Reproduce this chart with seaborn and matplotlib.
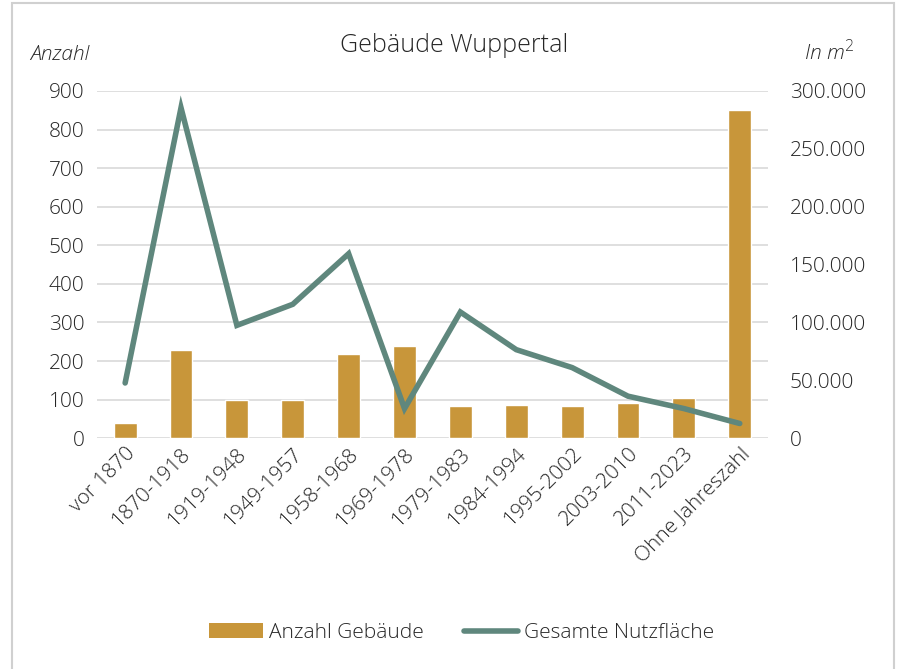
import matplotlib
matplotlib.use("Agg")
import matplotlib.pyplot as plt
import seaborn as sns
import pandas as pd
from matplotlib.patches import Patch, Rectangle
from matplotlib.lines import Line2D
from matplotlib.ticker import FuncFormatter

categories = ["vor 1870", "1870-1918", "1919-1948", "1949-1957", "1958-1968",
              "1969-1978", "1979-1983", "1984-1994", "1995-2002", "2003-2010",
              "2011-2023", "Ohne Jahreszahl"]
anzahl = [40, 228, 98, 98, 219, 238, 83, 87, 83, 91, 104, 851]
nutzflaeche = [47700, 285500, 97500, 115700, 159400, 25600, 109000, 76500,
               61000, 36300, 25600, 12700]
left_ticks = [0, 100, 200, 300, 400, 500, 600, 700, 800, 900]
right_ticks = [0, 50000, 100000, 150000, 200000, 250000, 300000]

sns.set_theme(style="white")
plt.rcParams["font.family"] = ["Open Sans", "DejaVu Sans"]
plt.rcParams["font.weight"] = "light"

bar_color = "#C8963A"
line_color = "#5F877D"
text_color = "#262626"
fs = 15

df = pd.DataFrame({"Kategorie": categories, "Anzahl": anzahl, "Nutz": nutzflaeche})

fig = plt.figure(figsize=(9, 6.69), dpi=100)
ax = fig.add_axes([0.108, 0.345, 0.745, 0.519])

sns.barplot(data=df, x="Kategorie", y="Anzahl", color=bar_color, width=0.41,
            saturation=1, ax=ax, zorder=2)
ax.set_ylim(0, 900)
ax.set_xlim(-0.5, len(categories) - 0.5)
ax.set_yticks(left_ticks)
ax.yaxis.grid(True, color="#D9D9D9", linewidth=1.2, zorder=0)
ax.set_axisbelow(True)
ax.set_xlabel("")
ax.set_ylabel("")
for s in ax.spines.values():
    s.set_visible(False)
ax.tick_params(axis="y", length=0, pad=9, labelsize=fs, labelcolor=text_color)
ax.tick_params(axis="x", length=0, pad=4, labelsize=fs, labelcolor=text_color)
plt.setp(ax.get_xticklabels(), rotation=45, ha="right", rotation_mode="anchor")

ax2 = ax.twinx()
sns.lineplot(data=df, x="Kategorie", y="Nutz", color=line_color, linewidth=4,
             sort=False, ax=ax2, solid_capstyle="round", solid_joinstyle="miter")
ax2.set_ylim(0, 300000)
ax2.set_yticks(right_ticks)
ax2.yaxis.set_major_formatter(FuncFormatter(lambda v, p: f"{int(v):,}".replace(",", ".")))
ax2.set_ylabel("")
ax2.set_xlabel("")
for s in ax2.spines.values():
    s.set_visible(False)
ax2.tick_params(axis="y", length=0, pad=16, labelsize=fs, labelcolor=text_color)
ax2.grid(False)

fig.text(0.505, 0.932, "Gebäude Wuppertal", ha="center", va="center",
         fontsize=18, color=text_color)
fig.text(0.033, 0.918, "Anzahl", ha="left", va="center", fontsize=fs,
         style="italic", color=text_color)
fig.text(0.893, 0.922, "In m$^2$", ha="left", va="center", fontsize=fs,
         style="italic", color=text_color)

handles = [Patch(facecolor=bar_color, edgecolor="none"),
           Line2D([0], [0], color=line_color, linewidth=4, solid_capstyle="round")]
fig.legend(handles, ["Anzahl Gebäude", "Gesamte Nutzfläche"], loc="center",
           bbox_to_anchor=(0.513, 0.054), ncol=2, frameon=False, fontsize=fs,
           handlelength=2.6, columnspacing=1.9, handletextpad=0.3,
           labelcolor=text_color)

fig.patches.append(Rectangle((0.013, -0.01), 0.98, 1.005, transform=fig.transFigure,
                             fill=False, edgecolor="#D0D0D0", linewidth=1.5))

fig.savefig("out.png", dpi=100)
